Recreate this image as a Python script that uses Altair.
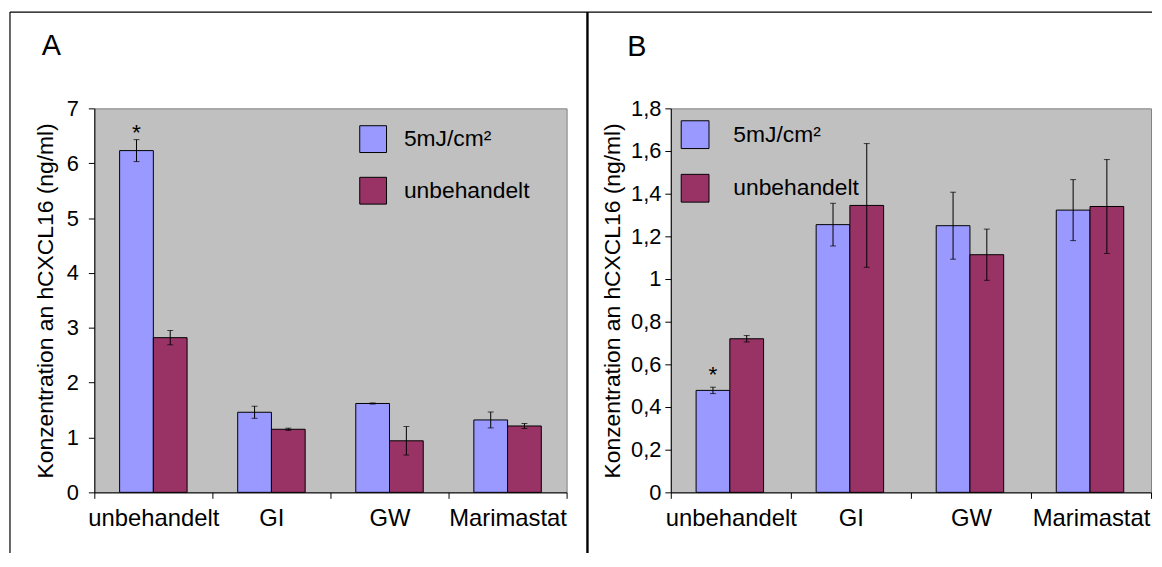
import altair as alt
import pandas as pd

FONT = "Liberation Sans"

categories = ["unbehandelt", "GI", "GW", "Marimastat"]
series = ["5mJ/cm²", "unbehandelt"]
colors = ["#9999FF", "#993366"]

# Panel A values (ng/ml) and error half-widths
a_uv = [6.23, 1.46, 1.62, 1.32]
a_uv_err = [0.20, 0.11, 0.01, 0.145]
a_unt = [2.82, 1.15, 0.94, 1.21]
a_unt_err = [0.13, 0.02, 0.26, 0.045]
a_star = [1, 0, 0, 0]

# Panel B values
b_uv = [0.478, 1.255, 1.25, 1.323]
b_uv_err = [0.015, 0.10, 0.157, 0.143]
b_unt = [0.72, 1.345, 1.114, 1.34]
b_unt_err = [0.015, 0.29, 0.12, 0.22]
b_star = [1, 0, 0, 0]

a_ticks = [0, 1, 2, 3, 4, 5, 6, 7]
b_ticks = [0, 0.2, 0.4, 0.6, 0.8, 1.0, 1.2, 1.4, 1.6, 1.8]


def frame(uv, uv_err, unt, unt_err, star):
    rows = []
    for i, c in enumerate(categories):
        rows.append(dict(cat=c, ser=series[0], val=uv[i], lo=uv[i] - uv_err[i],
                         hi=uv[i] + uv_err[i], star=star[i]))
        rows.append(dict(cat=c, ser=series[1], val=unt[i], lo=unt[i] - unt_err[i],
                         hi=unt[i] + unt_err[i], star=0))
    return pd.DataFrame(rows)


one = alt.Data(values=[{"k": 0}])


def panel(df, ymax, ticks, label_expr, width, height, letter, letter_x, letter_y,
          leg_x, leg_y, sym, label_offset, row_pad, ylabel_pad, title_pad, star_dy, decor):
    xenc = alt.X("cat:N", sort=categories,
                 scale=alt.Scale(paddingInner=0, paddingOuter=0),
                 axis=alt.Axis(title=None, tickBand="extent", labelAngle=0,
                               labelFontSize=24, labelPadding=8, tickSize=6,
                               domainColor="black", tickColor="black",
                               labelColor="black", labelFont=FONT))
    xoff = alt.XOffset("ser:N", sort=series,
                       scale=alt.Scale(paddingOuter=0.75, paddingInner=0))
    yscale = alt.Scale(domain=[0, ymax], nice=False)
    yaxis = alt.Axis(title="Konzentration an hCXCL16 (ng/ml)", values=ticks,
                     labelExpr=label_expr, grid=False, tickSize=6,
                     labelFontSize=22, labelPadding=ylabel_pad,
                     titleFontSize=23, titleFontWeight="normal",
                     titlePadding=title_pad, domainColor="black",
                     tickColor="black", labelColor="black", titleColor="black",
                     labelFont=FONT, titleFont=FONT)
    color = alt.Color("ser:N", scale=alt.Scale(domain=series, range=colors),
                      legend=alt.Legend(orient="none", legendX=leg_x, legendY=leg_y,
                                        title=None, symbolType="square",
                                        symbolSize=sym * sym, symbolStrokeColor="black",
                                        symbolStrokeWidth=1, symbolOpacity=1,
                                        labelFontSize=23, labelFont=FONT,
                                        labelColor="black", labelOffset=label_offset,
                                        rowPadding=row_pad, padding=0))
    base = alt.Chart(df)
    bars = base.mark_bar(stroke="black", strokeWidth=1, opacity=1).encode(
        x=xenc, xOffset=xoff, y=alt.Y("val:Q", scale=yscale, axis=yaxis), color=color)
    err = base.mark_rule(color="black", strokeWidth=1).encode(
        x=xenc, xOffset=xoff, y=alt.Y("lo:Q", scale=yscale, axis=yaxis), y2="hi:Q")
    cap_lo = base.mark_tick(color="black", size=6, thickness=1, orient="horizontal").encode(
        x=xenc, xOffset=xoff, y=alt.Y("lo:Q", scale=yscale, axis=yaxis))
    cap_hi = base.mark_tick(color="black", size=6, thickness=1, orient="horizontal").encode(
        x=xenc, xOffset=xoff, y=alt.Y("hi:Q", scale=yscale, axis=yaxis))
    star = base.transform_filter("datum.star == 1").mark_text(
        text="*", fontSize=23, font=FONT, color="black", baseline="alphabetic", dy=star_dy).encode(
        x=xenc, xOffset=xoff, y=alt.Y("hi:Q", scale=yscale, axis=yaxis))
    lab = alt.Chart(one).mark_text(text=letter, fontSize=29, font=FONT, color="black",
                                   align="left", baseline="alphabetic").encode(
        x=alt.value(letter_x), y=alt.value(letter_y))
    layers = [bars, err, cap_lo, cap_hi, star, lab] + decor
    return alt.layer(*layers).properties(width=width, height=height)


# frame lines of the figure (relative to panel A's plot area)
frame_a = [
    alt.Chart(one).mark_rule(color="black", strokeWidth=1.2).encode(
        x=alt.value(-85), y=alt.value(-97), y2=alt.value(448)),
    alt.Chart(one).mark_rule(color="black", strokeWidth=1.2).encode(
        x=alt.value(-85), x2=alt.value(1066), y=alt.value(-97)),
    alt.Chart(one).mark_rule(color="black", strokeWidth=2.4).encode(
        x=alt.value(497), y=alt.value(-97), y2=alt.value(448)),
]

df_a = frame(a_uv, a_uv_err, a_unt, a_unt_err, a_star)
df_b = frame(b_uv, b_uv_err, b_unt, b_unt_err, b_star)

chart_a = panel(df_a, 7, a_ticks, "format(datum.value, 'd')", 476, 387, "A", -53, -54,
                267, 17, 27, 17, 20, 10, 9, 0, frame_a)
chart_b = panel(df_b, 1.8, b_ticks,
                "replace(format(datum.value, '.1~f'), '.', ',')", 484, 387, "B", -44, -53,
                10, 12, 28, 24, 21, 4, 6, -5, [])

chart = alt.hconcat(chart_a, chart_b, spacing=105, bounds="flush").resolve_scale(
    color="independent", y="independent"
).properties(padding=0, background="white").configure_view(
    fill="#C0C0C0", stroke="#808080", strokeWidth=1
)

chart.save("out.html", embed_options={"renderer": "svg", "actions": False})
